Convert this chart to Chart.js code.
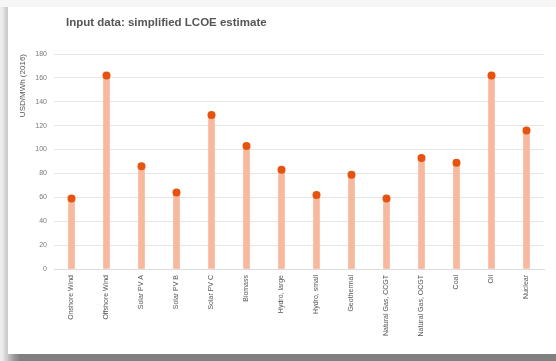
<!DOCTYPE html>
<html>
<head>
<meta charset="utf-8">
<script src="https://cdn.jsdelivr.net/npm/chart.js@4/dist/chart.umd.min.js"></script>
<style>
  html, body { margin: 0; padding: 0; }
  body { width: 556px; height: 361px; position: relative; overflow: hidden; background: #f6f6f6; }
  #edge-left { position: absolute; left: 0; top: 7px; width: 8px; height: 354px;
    background: linear-gradient(to right, #efefef 0, #e8e8e8 3px, #d6d6d6 5px, #c9c9c9 8px); }
  #edge-bottom { position: absolute; left: 8px; top: 354px; width: 548px; height: 7px;
    background: linear-gradient(to right, #c4c4c4 0, #9a9a9a 6px, #808080 12px, #808080 100%); }
  #card { position: absolute; left: 8px; top: 7px; width: 548px; height: 347px; background: #fff; }
  #chart { display: block; }
</style>
</head>
<body>
<div id="edge-left"></div>
<div id="edge-bottom"></div>
<div id="card"><canvas id="chart" width="548" height="347"></canvas></div>
<script>
  // simplified LCOE estimate per technology, USD/MWh (2016)
  const technologies = [
    "Onshore Wind", "Offshore Wind", "Solar PV A", "Solar PV B", "Solar PV C",
    "Biomass", "Hydro, large", "Hydro, small", "Geothermal", "Natural Gas, CCGT",
    "Natural Gas, OCGT", "Coal", "Oil", "Nuclear"
  ];
  const lcoe = [59, 162, 86, 64, 129, 103, 83, 62, 79, 59, 93, 89, 162, 116];
  const yTicks = [0, 20, 40, 60, 80, 100, 120, 140, 160, 180];

  const chartTitle = "Input data: simplified LCOE estimate";
  const axisTitle = "USD/MWh (2016)";

  // title sits left of center, so draw it ourselves
  const titlePlugin = {
    id: "cardTitle",
    afterDraw(chart) {
      const ctx = chart.ctx;
      ctx.save();
      ctx.font = "bold 11.5px 'Liberation Sans', Arial, sans-serif";
      ctx.fillStyle = "#555";
      ctx.textBaseline = "middle";
      ctx.textAlign = "left";
      ctx.fillText(chartTitle, 58, 16);
      ctx.restore();
    }
  };

  new Chart(document.getElementById("chart"), {
    type: "bar",
    data: {
      labels: technologies,
      datasets: [
        {
          type: "line",
          data: lcoe,
          showLine: false,
          pointRadius: 4,
          pointHoverRadius: 4,
          pointBackgroundColor: "#e8520f",
          pointBorderColor: "#e8520f",
          pointBorderWidth: 0
        },
        {
          data: lcoe,
          backgroundColor: "#f8b89d",
          barThickness: 6
        }
      ]
    },
    options: {
      responsive: false,
      animation: false,
      layout: { padding: { left: 8, right: 12, top: 47, bottom: 7 } },
      plugins: {
        legend: { display: false },
        tooltip: { enabled: false }
      },
      scales: {
        x: {
          grid: { display: false, drawTicks: false },
          border: { color: "#dcdcdc" },
          ticks: {
            autoSkip: false,
            minRotation: 90,
            maxRotation: 90,
            padding: 6,
            color: "#555",
            font: { family: "'Liberation Sans', Arial, sans-serif", size: 7 }
          },
          afterFit(scale) { scale.height = 78; }
        },
        y: {
          min: 0,
          max: 180,
          afterBuildTicks(scale) { scale.ticks = yTicks.map(v => ({ value: v })); },
          grid: { color: "#e6e6e6", drawTicks: false },
          border: { display: false },
          ticks: {
            padding: 7,
            color: "#777",
            font: { family: "'Liberation Sans', Arial, sans-serif", size: 7 }
          },
          title: {
            display: true,
            text: axisTitle,
            align: "end",
            color: "#555",
            padding: { top: 2, bottom: 6 },
            font: { family: "'Liberation Sans', Arial, sans-serif", size: 8 }
          },
          afterFit(scale) { scale.width = 38; }
        }
      }
    },
    plugins: [titlePlugin]
  });
</script>
</body>
</html>
